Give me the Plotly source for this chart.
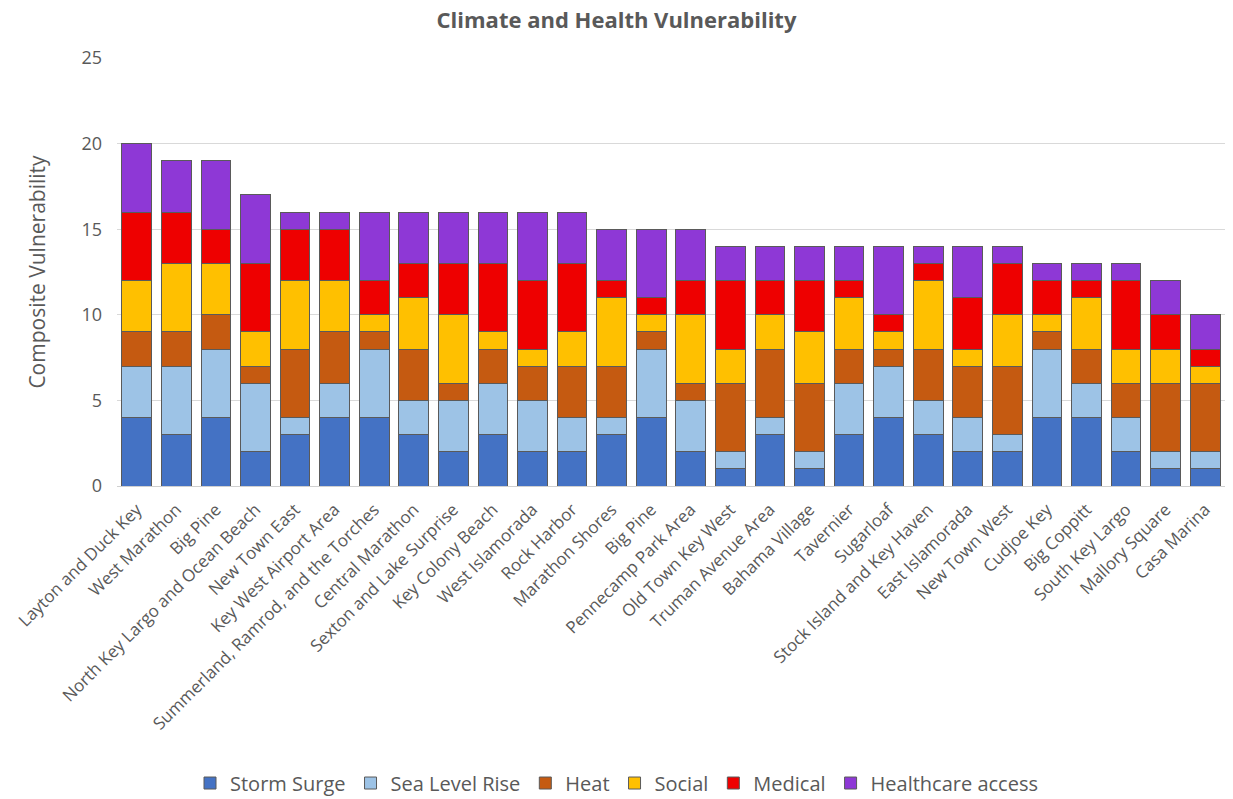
import plotly.graph_objects as go

# Neighbourhoods, in ranked order (note "Big Pine" appears twice)
areas = [
    "Layton and Duck Key", "West Marathon", "Big Pine", "North Key Largo and Ocean Beach",
    "New Town East", "Key West Airport Area", "Summerland, Ramrod, and the Torches",
    "Central Marathon", "Sexton and Lake Surprise", "Key Colony Beach", "West Islamorada",
    "Rock Harbor", "Marathon Shores", "Big Pine", "Pennecamp Park Area", "Old Town Key West",
    "Truman Avenue Area", "Bahama Village", "Tavernier", "Sugarloaf",
    "Stock Island and Key Haven", "East Islamorada", "New Town West", "Cudjoe Key",
    "Big Coppitt", "South Key Largo", "Mallory Square", "Casa Marina",
]

storm_surge = [4, 3, 4, 2, 3, 4, 4, 3, 2, 3, 2, 2, 3, 4, 2, 1, 3, 1, 3, 4, 3, 2, 2, 4, 4, 2, 1, 1]
sea_level_rise = [3, 4, 4, 4, 1, 2, 4, 2, 3, 3, 3, 2, 1, 4, 3, 1, 1, 1, 3, 3, 2, 2, 1, 4, 2, 2, 1, 1]
heat = [2, 2, 2, 1, 4, 3, 1, 3, 1, 2, 2, 3, 3, 1, 1, 4, 4, 4, 2, 1, 3, 3, 4, 1, 2, 2, 4, 4]
social = [3, 4, 3, 2, 4, 3, 1, 3, 4, 1, 1, 2, 4, 1, 4, 2, 2, 3, 3, 1, 4, 1, 3, 1, 3, 2, 2, 1]
medical = [4, 3, 2, 4, 3, 3, 2, 2, 3, 4, 4, 4, 1, 1, 2, 4, 2, 3, 1, 1, 1, 3, 3, 2, 1, 4, 2, 1]
healthcare_access = [4, 3, 4, 4, 1, 1, 4, 3, 3, 3, 4, 3, 3, 4, 3, 2, 2, 2, 2, 4, 1, 3, 1, 1, 1, 1, 2, 2]

series = [
    ("Storm Surge", storm_surge, "#4472C4"),
    ("Sea Level Rise", sea_level_rise, "#9DC3E6"),
    ("Heat", heat, "#C55A11"),
    ("Social", social, "#FFC000"),
    ("Medical", medical, "#EE0000"),
    ("Healthcare access", healthcare_access, "#8E38D6"),
]

positions = list(range(len(areas)))
grey = "#595959"

fig = go.Figure()
for name, values, color in series:
    fig.add_trace(go.Bar(
        x=positions, y=values, name=name,
        marker=dict(color=color, line=dict(color="#5a5a5a", width=1)),
    ))

fig.update_layout(
    barmode="stack",
    bargap=0.25,
    width=1233, height=799,
    margin=dict(l=117, r=8, t=58, b=313),
    paper_bgcolor="white", plot_bgcolor="white",
    font=dict(family="Open Sans", color=grey),
    title=dict(
        text="<b>Climate and Health Vulnerability</b>",
        x=0.5, xref="container", xanchor="center",
        y=0.975, yref="container", yanchor="middle",
        font=dict(size=22, color=grey, family="Open Sans"),
    ),
    xaxis=dict(
        tickmode="array", tickvals=positions, ticktext=areas,
        tickangle=-45, range=[-0.5, len(areas) - 0.5],
        tickfont=dict(size=17, color=grey),
        showgrid=False, showline=True, linecolor="#d0d0d0", linewidth=1,
        ticks="", ticklabelstandoff=6,
    ),
    yaxis=dict(
        range=[0, 25], dtick=5,
        tickfont=dict(size=18, color=grey),
        showgrid=True, gridcolor="#d9d9d9", gridwidth=1,
        zeroline=False, ticks="", ticklabelstandoff=14,
        title=dict(text="Composite Vulnerability", font=dict(size=21, color=grey), standoff=30),
    ),
    legend=dict(
        orientation="h", x=0.5, xref="container", xanchor="center",
        y=0.02, yref="container", yanchor="middle",
        font=dict(size=20, color=grey),
        itemwidth=30, traceorder="normal",
    ),
)

fig.write_html("out.html")
